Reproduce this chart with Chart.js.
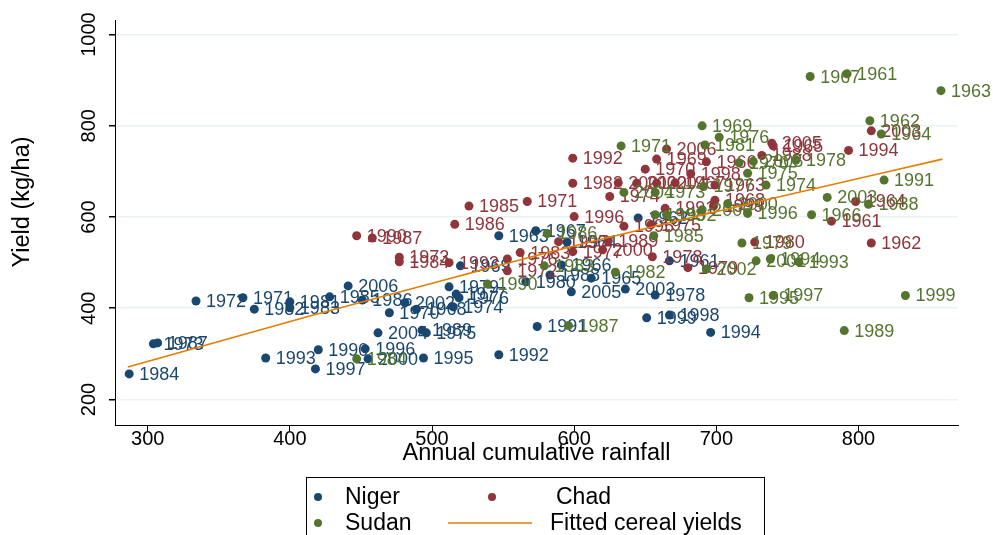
<!DOCTYPE html>
<html>
<head>
<meta charset="utf-8">
<script src="https://cdn.jsdelivr.net/npm/chart.js@4.4.0/dist/chart.umd.min.js"></script>
<style>
  html, body { margin: 0; padding: 0; background: #fff; }
  #wrap { position: relative; width: 993px; height: 535px; }
</style>
</head>
<body>
<div id="wrap"><canvas id="chart"></canvas></div>
<script>
// values (rainfall mm, yield kg/ha)
const nigerYears = [1984,1973,1987,1972,1971,1982,1981,1983,1993,1997,1990,1996,2000,1995,2004,1989,1975,2006,1985,1986,2002,1970,1968,1974,1977,1976,1979,1969,1963,1967,1980,1988,1966,1965,2005,2003,1978,1999,1998,1994,1991,1992,1961,1962,1964];
const nigerRain  = [287,304,307,334,367,375,400,400,383,418,420,453,455,494,462,493,496,441,428,451,481,470,489,515,517,519,512,520,547,573,566,583,591,612,598,636,657,651,667,696,574,547,667,645,595];
const nigerYield = [256,322,324,416,423,398,414,401,291,267,309,311,289,291,346,352,346,449,425,418,412,390,398,403,431,423,447,493,559,570,458,473,495,466,436,442,429,379,385,347,360,298,504,598,545];

const chadYears = [1990,1987,1973,1984,1993,1985,1971,1986,1976,1972,1983,1997,1977,2000,1996,1982,1974,1992,1969,2006,1970,1998,1966,2001,2002,2004,1967,1963,1968,1999,1989,1995,1975,1991,1978,1979,2005,1965,1988,1994,2003,1964,1961,1962,1980];
const chadRain  = [447,458,477,477,512,526,567,516,553,553,562,589,599,620,600,599,625,599,658,665,650,682,693,631,644,658,671,699,699,698,624,635,654,664,655,680,739,740,732,793,809,798,781,809,727];
const chadYield = [559,554,512,502,500,624,634,584,508,482,522,546,524,528,601,674,645,729,727,749,705,695,721,675,674,674,675,670,637,624,548,580,583,619,513,489,762,756,735,746,789,634,591,543,545];

const sudanYears = [1961,1967,1963,1962,1964,1969,1976,1981,1978,2005,1970,1975,1974,1991,2003,1988,1966,1996,2000,1979,2001,1994,1993,2002,1995,1997,1999,1989,1987,1990,1983,1986,1985,1982,1992,1998,2006,1971,2004,1973,1977,1984];
const sudanRain  = [792,766,858,808,816,690,702,692,756,726,716,722,735,818,778,807,767,722,708,718,728,738,758,693,723,740,833,790,596,539,579,581,656,629,665,657,690,633,635,657,691,447];
const sudanYield = [914,908,877,811,782,800,775,758,725,722,719,696,670,681,643,628,605,608,629,543,504,508,502,486,423,428,428,351,362,453,493,564,559,479,605,605,616,756,654,654,667,289];

const fitRain  = [286,414,534,590,730,859];
const fitYield = [271,383,483,529,634,727];

const xTicks = [300,400,500,600,700,800];
const yTicks = [200,400,600,800,1000];
const xTitle = 'Annual cumulative rainfall';
const yTitle = 'Yield (kg/ha)';

const NAVY = '#1a476f', MAROON = '#90353b', GREEN = '#55752f', ORANGE = '#e37e00';
const FONT = '"Liberation Sans", Arial, Helvetica, sans-serif';

function pts(xs, ys) {
    return xs.map((x, i) => ({x: x, y: ys[i]}));
}

function scatterSet(label, xs, ys, years, color, order) {
    return {
        label: label,
        data: pts(xs, ys),
        years: years,
        backgroundColor: color,
        borderColor: color,
        pointRadius: 4.5,
        pointHoverRadius: 4.5,
        borderWidth: 0,
        order: order,
    };
}

const stataText = {
    id: 'stataText',
    afterDatasetDraw(chart, args) {
        const ds = chart.data.datasets[args.index];
        if (!ds.years) return;
        const ctx = chart.ctx;
        ctx.save();
        ctx.font = '18px ' + FONT;
        ctx.fillStyle = ds.backgroundColor;
        ctx.textBaseline = 'middle';
        args.meta.data.forEach((pt, i) => {
            ctx.fillText(String(ds.years[i]), pt.x + 10, pt.y + 1);
        });
        ctx.restore();
    },
    afterDraw(chart) {
        const ctx = chart.ctx;
        const xs = chart.scales.x, ys = chart.scales.y;
        const area = chart.chartArea;
        ctx.save();
        ctx.fillStyle = '#000';
        ctx.textAlign = 'center';
        ctx.textBaseline = 'middle';
        ctx.font = '20px ' + FONT;
        xTicks.forEach(v => ctx.fillText(String(v), xs.getPixelForValue(v), 439));
        yTicks.forEach(v => {
            ctx.save();
            ctx.translate(89, ys.getPixelForValue(v));
            ctx.rotate(-Math.PI / 2);
            ctx.fillText(String(v), 0, 0);
            ctx.restore();
        });
        ctx.font = '23.5px ' + FONT;
        ctx.fillText(xTitle, (area.left + area.right) / 2, 454);
        ctx.save();
        ctx.translate(23, 202);
        ctx.rotate(-Math.PI / 2);
        ctx.fillText(yTitle, 0, 0);
        ctx.restore();

        // legend box
        ctx.strokeStyle = '#000';
        ctx.lineWidth = 1;
        ctx.strokeRect(306.5, 477.5, 458, 80);
        ctx.textAlign = 'left';
        ctx.font = '23px ' + FONT;
        const entries = [
            {dot: NAVY, x: 318, y: 497, tx: 345, text: 'Niger'},
            {dot: MAROON, x: 492, y: 497, tx: 556, text: 'Chad'},
            {dot: GREEN, x: 318, y: 523, tx: 345, text: 'Sudan'},
            {line: ORANGE, x: 448, y: 523, tx: 550, text: 'Fitted cereal yields'},
        ];
        entries.forEach(e => {
            if (e.dot) {
                ctx.fillStyle = e.dot;
                ctx.beginPath();
                ctx.arc(e.x, e.y, 4, 0, Math.PI * 2);
                ctx.fill();
            } else {
                ctx.strokeStyle = e.line;
                ctx.lineWidth = 1.6;
                ctx.beginPath();
                ctx.moveTo(e.x, e.y);
                ctx.lineTo(e.x + 84, e.y);
                ctx.stroke();
            }
            ctx.fillStyle = '#000';
            ctx.fillText(e.text, e.tx, e.y + 1);
        });
        ctx.restore();
    }
};

new Chart(document.getElementById('chart'), {
    type: 'scatter',
    data: {
        datasets: [
            scatterSet('Niger', nigerRain, nigerYield, nigerYears, NAVY, 4),
            scatterSet('Chad', chadRain, chadYield, chadYears, MAROON, 3),
            scatterSet('Sudan', sudanRain, sudanYield, sudanYears, GREEN, 2),
            {
                label: 'Fitted cereal yields',
                data: pts(fitRain, fitYield),
                showLine: true,
                borderColor: ORANGE,
                backgroundColor: ORANGE,
                borderWidth: 1.6,
                pointRadius: 0,
                pointHoverRadius: 0,
                cubicInterpolationMode: 'monotone',
                order: 1,
            },
        ],
    },
    options: {
        responsive: true,
        maintainAspectRatio: false,
        animation: false,
        events: [],
        layout: { padding: { top: 20, right: 35, left: 0, bottom: 0 } },
        plugins: { legend: { display: false }, tooltip: { enabled: false } },
        scales: {
            x: {
                type: 'linear',
                min: 277,
                max: 870,
                afterBuildTicks: s => { s.ticks = xTicks.map(v => ({value: v})); },
                afterFit: s => { s.height = 110; },
                ticks: { display: false },
                grid: { drawOnChartArea: false, drawTicks: true, tickLength: 6, tickColor: '#000' },
                border: { color: '#000', width: 1 },
            },
            y: {
                type: 'linear',
                min: 144,
                max: 1032,
                afterBuildTicks: s => { s.ticks = yTicks.map(v => ({value: v})); },
                afterFit: s => { s.width = 115; },
                ticks: { display: false },
                grid: { color: '#eaf2f3', lineWidth: 1.5, drawTicks: true, tickLength: 6, tickColor: '#000' },
                border: { color: '#000', width: 1 },
            },
        },
    },
    plugins: [stataText],
});
</script>
</body>
</html>
